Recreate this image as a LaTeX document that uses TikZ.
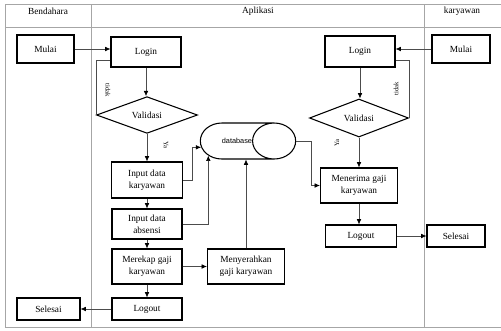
\documentclass[tikz,border=0pt]{standalone}
\usepackage{fontspec}
\setmainfont{Liberation Serif}
\newfontfamily\dbfont{Liberation Sans}
\usetikzlibrary{arrows.meta,calc,shapes.geometric}
\tikzset{
    ukuran/.style 2 args={minimum width=#1*0.75pt,minimum height=#2*0.75pt},
    proses/.style={rectangle,draw=black,line width=0.8pt,align=center,inner sep=0pt,
        font=\fontsize{7}{9}\selectfont},
    keputusan/.style={diamond,draw=black,line width=0.8pt,inner sep=0pt,
        font=\fontsize{7}{9}\selectfont},
    penyimpanan/.style={cylinder,draw=black,line width=0.8pt,aspect=8,inner sep=0pt,
        anchor=shape center,font=\dbfont\fontsize{5.5}{6}\selectfont},
    judul/.style={font=\fontsize{7}{9}\selectfont},
    ket/.style={font=\fontsize{5}{6}\selectfont,inner sep=0pt},
    lajur/.style={draw=gray!70,line width=0.6pt},
    garis/.style={draw=gray!60!black,line width=0.5pt},
    panah/.style={garis,-{Latex[length=4pt,width=3.5pt,black]}}
}
\begin{document}
\begin{tikzpicture}[x=0.75pt,y=-0.75pt]
\useasboundingbox (0,0) rectangle (501,330);
% lajur
\draw [lajur] (5,4) -- (505,4);
\draw [lajur] (5,27) -- (505,27);
\draw [lajur] (5,327) -- (505,327);
\draw [lajur] (5,4) -- (5,327);
\draw [lajur] (91,4) -- (91,327);
\draw [lajur] (424,4) -- (424,327);
\node[judul] (JBendahara) at (48,11) {Bendahara};
\node[judul] (JAplikasi) at (258,11) {Aplikasi};
\node[judul] (JKaryawan) at (462,11) {karyawan};
% bendahara
\node[proses,ukuran={57}{28}] (MulaiB) at (45.5,49) {Mulai};
\node[proses,ukuran={63}{22}] (SelesaiB) at (48.5,309) {Selesai};
\node[proses,ukuran={70}{30}] (LoginB) at (146,52) {Login};
\node[keputusan,ukuran={101}{34}] (ValidasiB) at (147,115) {Validasi};
\node[proses,ukuran={71}{36}] (InKarB) at (147,180) {Input data\\karyawan};
\node[proses,ukuran={70}{30}] (InAbsB) at (147,224) {Input data\\absensi};
\node[proses,ukuran={70}{35}] (RekapB) at (147,266.5) {Merekap gaji\\karyawan};
\node[proses,ukuran={70}{22}] (LogoutB) at (147,309) {Logout};
\node[proses,ukuran={77}{35}] (SerahB) at (246,266.5) {Menyerahkan\\gaji karyawan};
\node[penyimpanan,ukuran={36}{94}] (Database) at (248,141) {database};
% karyawan
\node[proses,ukuran={58}{28}] (MulaiK) at (461,49) {Mulai};
\node[proses,ukuran={58}{22}] (SelesaiK) at (456,236) {Selesai};
\node[proses,ukuran={70}{31}] (LoginK) at (360,51.5) {Login};
\node[keputusan,ukuran={99}{38}] (ValidasiK) at (359,118) {Validasi};
\node[proses,ukuran={77}{35}] (TerimaK) at (359,185.5) {Menerima gaji\\karyawan};
\node[proses,ukuran={71}{22}] (LogoutK) at (361,236) {Logout};
% label
\node[ket,rotate=-90] (TidakB) at (108,90) {tidak};
\node[ket,rotate=-90] (YaB) at (166,145) {Ya};
\node[ket,rotate=90] (TidakK) at (396,89) {tidak};
\node[ket,rotate=90] (YaK) at (337,143) {Ya};
% alur bendahara
\draw [panah] (MulaiB.east) -- (MulaiB.east -| LoginB.west);
\draw [panah] (LoginB.south) -- (LoginB.south |- ValidasiB.north);
\draw [garis] (ValidasiB.west) |- ($(LoginB.south west)!0.23!(LoginB.north west)$);
\draw [panah] (ValidasiB.south) -- (ValidasiB.south |- InKarB.north);
\draw [panah] (InKarB.south) -- (InKarB.south |- InAbsB.north);
\draw [panah] (InAbsB.south) -- (InAbsB.south |- RekapB.north);
\draw [panah] (RekapB.south) -- (RekapB.south |- LogoutB.north);
\draw [panah] (LogoutB.west) -- (SelesaiB.east);
\draw [panah] (RekapB.east) -- (SerahB.west);
\draw [panah] (InKarB.east) -- ++(9,0) |- (Database.190);
\draw [panah] (InAbsB.east) -| (Database.207);
\draw [panah] (SerahB.north) -- (SerahB.north |- Database.south);
% alur karyawan
\draw [panah] (MulaiK.west) -- (MulaiK.west -| LoginK.east);
\draw [panah] (LoginK.south) -- (LoginK.south |- ValidasiK.north);
\draw [garis] (ValidasiK.east) |- ($(LoginK.south east)!0.23!(LoginK.north east)$);
\draw [panah] (ValidasiK.south) -- (ValidasiK.south |- TerimaK.north);
\draw [panah] (Database.east) -- ++(15,0) |- (TerimaK.west);
\draw [panah] (TerimaK.south) -- (TerimaK.south |- LogoutK.north);
\draw [panah] (LogoutK.east) -- (SelesaiK.west);
\end{tikzpicture}
\end{document}
